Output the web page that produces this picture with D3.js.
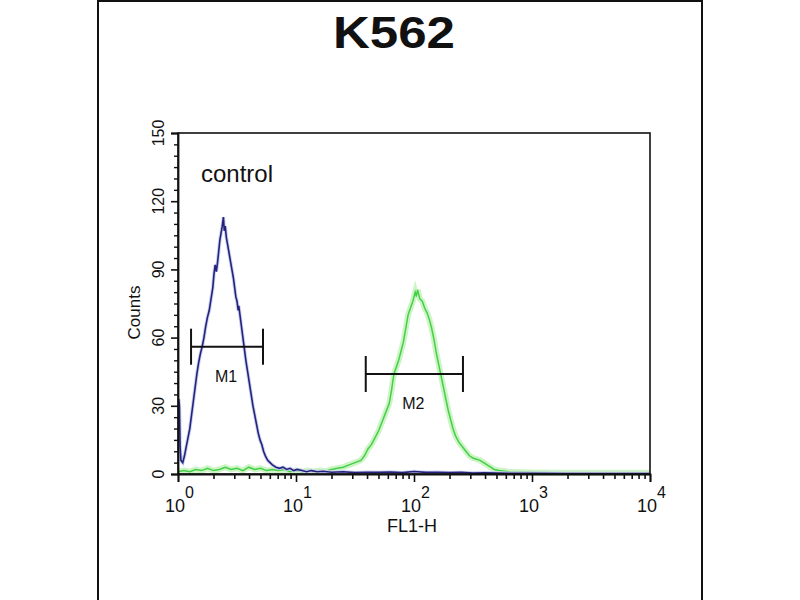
<!DOCTYPE html>
<html>
<head>
<meta charset="utf-8">
<script src="https://cdn.jsdelivr.net/npm/d3@7"></script>
<style>
  body { margin: 0; background: #fff; }
  text { font-family: "Liberation Sans", Arial, sans-serif; fill: #111; }
</style>
</head>
<body>
<div id="chart"></div>
<script>
// histogram positions are in decades of FL1-H (0 = 10^0), counts per channel
const controlLog = [0.006, 0.012, 0.018, 0.025, 0.040, 0.055, 0.070, 0.085, 0.100, 0.115, 0.130, 0.145, 0.160, 0.175,
  0.190, 0.205, 0.220, 0.235, 0.250, 0.265, 0.280, 0.295, 0.305, 0.315, 0.325, 0.335, 0.345, 0.355, 0.365, 0.375,
  0.385, 0.392, 0.400, 0.410, 0.420, 0.430, 0.440, 0.450, 0.460, 0.470, 0.480, 0.490, 0.500, 0.510, 0.515, 0.530,
  0.545, 0.560, 0.575, 0.590, 0.605, 0.620, 0.635, 0.650, 0.665, 0.680, 0.695, 0.710, 0.725, 0.740, 0.760, 0.780,
  0.800, 0.830, 0.860, 0.890, 0.920, 0.950, 0.980, 1.010, 1.050, 1.090, 1.130, 1.180, 1.230, 1.300, 1.400, 1.500,
  1.600, 1.700, 1.800, 1.900, 2.000, 2.100, 2.200, 2.300, 2.400, 2.500, 2.600, 2.800, 3.000, 3.300, 3.600, 4.000]
const controlCounts = [33, 30, 12, 6, 5, 8, 12, 16, 20, 26, 32, 38, 44, 49,
  53, 56, 60, 65, 69, 72, 77, 82, 88, 92, 89, 93, 98, 103, 106, 109,
  113, 107, 109, 104, 101, 98, 95, 92, 89, 86, 82, 78, 76, 72, 74, 68,
  62, 56, 50, 45, 40, 35, 30, 26, 22, 18, 15, 13, 10, 8, 6, 5,
  4, 3, 2.5, 3, 2, 2.5, 1.5, 2, 1.5, 1, 1.5, 1, 1.2, 0.8, 1, 0.6,
  0.8, 0.7, 0.9, 0.6, 1.1, 0.7, 0.8, 0.6, 0.7, 0.4, 0.5, 0.3, 0.3, 0.2, 0.2, 0.2]

const sampleLog = [0.00, 0.05, 0.10, 0.15, 0.20, 0.25, 0.30, 0.35, 0.40, 0.45, 0.50, 0.55, 0.60, 0.65, 0.70, 0.75,
  0.80, 0.85, 0.90, 0.95, 1.00, 1.05, 1.10, 1.15, 1.20, 1.25, 1.30, 1.35, 1.40, 1.45, 1.50, 1.55, 1.58, 1.61,
  1.64, 1.67, 1.70, 1.73, 1.76, 1.79, 1.81, 1.83, 1.85, 1.87, 1.89, 1.91, 1.93, 1.95, 1.97, 1.99, 2.01, 2.02,
  2.03, 2.05, 2.07, 2.09, 2.11, 2.13, 2.15, 2.17, 2.19, 2.21, 2.23, 2.25, 2.27, 2.29, 2.31, 2.33, 2.35, 2.38,
  2.41, 2.44, 2.47, 2.50, 2.53, 2.56, 2.59, 2.62, 2.65, 2.68, 2.72, 2.80, 2.90, 3.00, 3.20, 3.40, 3.60, 3.80, 4.00]
const sampleCounts = [1, 1.5, 1, 2, 1.5, 2.5, 1.5, 2, 3, 2, 2.5, 1.5, 3, 2, 2.5, 1.5,
  2, 1.5, 2, 1, 1.5, 1, 1.5, 1, 1.5, 1.2, 2, 2.5, 3, 4, 5, 6, 8, 11,
  13, 16, 19, 23, 27, 31, 37, 44, 47, 50, 54, 58, 64, 70, 73, 76, 80, 78,
  81, 77, 76, 73, 71, 68, 64, 59, 53, 48, 43, 38, 33, 28, 24, 20, 17, 14,
  12, 10, 8, 7, 6.5, 6, 5, 4, 3, 2, 1.5, 1, 0.8, 0.7, 0.6, 0.5, 0.6, 0.5, 0.5]

// marker gates
const markerNames = ['M1', 'M2']
const markerLo = [1.29, 39]
const markerHi = [5.25, 260]
const markerLevel = [56, 44]

const xMajor = [1, 10, 100, 1000, 10000]
const xExponents = ['0', '1', '2', '3', '4']
const yMajor = [0, 30, 60, 90, 120, 150]

const width = 800
const height = 600
let padding = { top: 133, right: 150, bottom: 126, left: 178 }

const svg = d3.select('#chart')
  .append('svg')
  .attr('width', width)
  .attr('height', height)

// outer frame
svg.append('rect')
  .attr('x', 98).attr('y', 1)
  .attr('width', 604).attr('height', 660)
  .attr('fill', 'none')
  .attr('stroke', '#111')
  .attr('stroke-width', 2)

svg.append('text')
  .attr('transform', 'translate(394,48) scale(1.16,1)')
  .attr('text-anchor', 'middle')
  .attr('font-size', 44)
  .attr('font-weight', 'bold')
  .text('K562')

const xScale = d3.scaleLog()
  .domain([1, 10000])
  .range([padding.left, width - padding.right])
const yScale = d3.scaleLinear()
  .domain([0, 150])
  .range([height - padding.bottom, padding.top])

const x0 = padding.left, x1 = width - padding.right
const y0 = height - padding.bottom, y1 = padding.top

// histograms
const line = d3.line()
  .x(d => xScale(Math.pow(10, d[0])))
  .y(d => yScale(d[1]))

const sampleData = sampleLog.map((v, i) => [v, sampleCounts[i]])
const controlData = controlLog.map((v, i) => [v, controlCounts[i]])

svg.append('path')
  .datum(sampleData)
  .attr('d', line)
  .attr('fill', 'none')
  .attr('stroke', '#cdf4c6')
  .attr('stroke-width', 6)
svg.append('path')
  .datum(sampleData)
  .attr('d', line)
  .attr('fill', 'none')
  .attr('stroke', '#44d044')
  .attr('stroke-width', 1.5)

svg.append('path')
  .datum(controlData)
  .attr('d', line)
  .attr('fill', 'none')
  .attr('stroke', '#ccd0f0')
  .attr('stroke-width', 3.5)
svg.append('path')
  .datum(controlData)
  .attr('d', line)
  .attr('fill', 'none')
  .attr('stroke', '#23237c')
  .attr('stroke-width', 1.6)

// plot box
svg.append('rect')
  .attr('x', x0).attr('y', y1)
  .attr('width', x1 - x0).attr('height', y0 - y1)
  .attr('fill', 'none')
  .attr('stroke', '#111')
  .attr('stroke-width', 1.6)

// x axis: minor then major ticks
let xMinor = []
xMajor.slice(0, 4).forEach(d => { for (let k = 2; k < 10; k++) xMinor.push(d * k) })

svg.append('g')
  .attr('transform', 'translate(0,' + y0 + ')')
  .call(d3.axisBottom(xScale).tickValues(xMinor).tickSize(5).tickFormat(''))
  .call(g => g.select('.domain').remove())
  .call(g => g.selectAll('line').attr('stroke', '#111').attr('stroke-width', 1.6))

const xAxisG = svg.append('g')
  .attr('transform', 'translate(0,' + y0 + ')')
  .call(d3.axisBottom(xScale).tickValues(xMajor).tickSize(8).tickFormat(''))
  .call(g => g.select('.domain').attr('stroke', '#111').attr('stroke-width', 1.8))
  .call(g => g.selectAll('line').attr('stroke', '#111').attr('stroke-width', 1.6))

xAxisG.selectAll('.tick').each(function (d, i) {
  const t = d3.select(this).append('text')
    .attr('x', 1)
    .attr('y', 38)
    .attr('text-anchor', 'middle')
    .attr('font-size', 18)
    .attr('fill', '#111')
  t.append('tspan').text('10')
  t.append('tspan').attr('font-size', 16).attr('dy', -14).text(xExponents[i])
})

svg.append('text')
  .attr('x', xScale(100) - 2)
  .attr('y', 532)
  .attr('text-anchor', 'middle')
  .attr('font-size', 18)
  .text('FL1-H')

// y axis
let yMinor = []
for (let v = 5; v < 150; v += 5) if (v % 30 !== 0) yMinor.push(v)

svg.append('g')
  .attr('transform', 'translate(' + x0 + ',0)')
  .call(d3.axisLeft(yScale).tickValues(yMinor).tickSize(4).tickFormat(''))
  .call(g => g.select('.domain').remove())
  .call(g => g.selectAll('line').attr('stroke', '#111').attr('stroke-width', 1.4))

svg.append('g')
  .attr('transform', 'translate(' + x0 + ',0)')
  .call(d3.axisLeft(yScale).tickValues(yMajor).tickSize(7).tickFormat(''))
  .call(g => g.select('.domain').attr('stroke', '#111').attr('stroke-width', 1.8))
  .call(g => g.selectAll('line').attr('stroke', '#111').attr('stroke-width', 1.6))

svg.selectAll('.ylab')
  .data(yMajor)
  .join('text')
  .attr('class', 'ylab')
  .attr('transform', d => 'translate(164,' + yScale(d) + ') rotate(-90)')
  .attr('text-anchor', 'middle')
  .attr('font-size', 16)
  .text(d => d)

svg.append('text')
  .attr('transform', 'translate(140,' + ((y0 + y1) / 2 + 9) + ') rotate(-90)')
  .attr('text-anchor', 'middle')
  .attr('font-size', 17)
  .text('Counts')

svg.append('text')
  .attr('x', 201)
  .attr('y', 182)
  .attr('font-size', 24)
  .text('control')

// markers
markerNames.forEach((name, i) => {
  const g = svg.append('g')
  const yy = yScale(markerLevel[i])
  const xa = xScale(markerLo[i]), xb = xScale(markerHi[i])
  g.append('line')
    .attr('x1', xa).attr('x2', xb).attr('y1', yy).attr('y2', yy)
    .attr('stroke', '#111').attr('stroke-width', 2)
  ;[xa, xb].forEach(x => {
    g.append('line')
      .attr('x1', x).attr('x2', x).attr('y1', yy - 18).attr('y2', yy + 18)
      .attr('stroke', '#111').attr('stroke-width', 2)
  })
  g.append('text')
    .attr('x', xScale(Math.sqrt(markerLo[i] * markerHi[i])) - 1)
    .attr('y', yy + 35)
    .attr('text-anchor', 'middle')
    .attr('font-size', 16)
    .text(name)
})
</script>
</body>
</html>
